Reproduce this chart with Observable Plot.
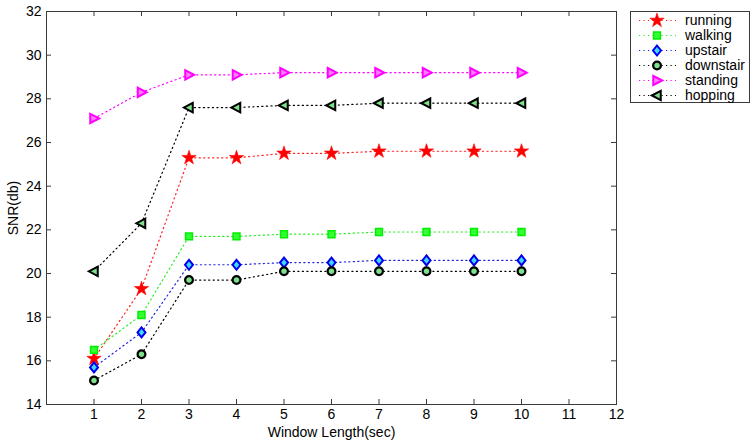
<!DOCTYPE html>
<html>
<head>
<meta charset="utf-8">
<script src="https://cdn.jsdelivr.net/npm/d3@7"></script>
<script src="https://cdn.jsdelivr.net/npm/@observablehq/plot@0.6"></script>
<style>
  body { margin: 0; background: #fff; }
  #wrap { position: relative; width: 756px; height: 444px; }
  #legend { position: absolute; left: 630px; top: 11px; }
</style>
</head>
<body>
<div id="wrap"></div>
<script>
// ---- data ----
const windowLengths = [1, 2, 3, 4, 5, 6, 7, 8, 9, 10];
const running   = [16.1, 19.3, 25.3, 25.3, 25.5, 25.5, 25.6, 25.6, 25.6, 25.6];
const walking   = [16.5, 18.1, 21.7, 21.7, 21.8, 21.8, 21.9, 21.9, 21.9, 21.9];
const upstair   = [15.7, 17.3, 20.4, 20.4, 20.5, 20.5, 20.6, 20.6, 20.6, 20.6];
const downstair = [15.1, 16.3, 19.7, 19.7, 20.1, 20.1, 20.1, 20.1, 20.1, 20.1];
const standing  = [27.1, 28.3, 29.1, 29.1, 29.2, 29.2, 29.2, 29.2, 29.2, 29.2];
const hopping   = [20.1, 22.3, 27.6, 27.6, 27.7, 27.7, 27.8, 27.8, 27.8, 27.8];
const seriesNames = ["running", "walking", "upstair", "downstair", "standing", "hopping"];
const xTicks = [1, 2, 3, 4, 5, 6, 7, 8, 9, 10, 11, 12];
const yTicks = [14, 16, 18, 20, 22, 24, 26, 28, 30, 32];

// ---- custom symbols ----
const triRight = { draw(ctx, size) { const r = Math.sqrt(size / Math.PI);
  ctx.moveTo(r * 1.1, 0); ctx.lineTo(-r * 0.8, -r); ctx.lineTo(-r * 0.8, r); ctx.closePath(); } };
const triLeft = { draw(ctx, size) { const r = Math.sqrt(size / Math.PI);
  ctx.moveTo(-r * 1.1, 0); ctx.lineTo(r * 0.8, -r); ctx.lineTo(r * 0.8, r); ctx.closePath(); } };
const diamond = { draw(ctx, size) { const r = Math.sqrt(size / Math.PI);
  ctx.moveTo(0, -r); ctx.lineTo(r * 0.8, 0); ctx.lineTo(0, r); ctx.lineTo(-r * 0.8, 0); ctx.closePath(); } };
const square = { draw(ctx, size) { const r = Math.sqrt(size / Math.PI) * 0.8;
  ctx.rect(-r, -r, 2 * r, 2 * r); } };

const values = [running, walking, upstair, downstair, standing, hopping];
const styles = [
  { line: "#ff2020", stroke: "#ff0000", fill: "#ff0000", symbol: d3.symbolStar, r: 4.5, sw: 0.6 },
  { line: "#22ee22", stroke: "#00ee00", fill: "#33ff33", symbol: square, r: 4.3, sw: 1.5 },
  { line: "#2222dd", stroke: "#0000ee", fill: "#40d8ff", symbol: diamond, r: 5, sw: 2 },
  { line: "#000000", stroke: "#000000", fill: "#7de08a", symbol: "circle", r: 3.9, sw: 2.2 },
  { line: "#ff00ff", stroke: "#ff00ff", fill: "#ff7cff", symbol: triRight, r: 4.7, sw: 2 },
  { line: "#000000", stroke: "#000000", fill: "#7de08a", symbol: triLeft, r: 4.7, sw: 2 }
];

const W = 756, H = 444, mL = 46, mR = 140, mT = 11, mB = 40;
const innerW = W - mL - mR, innerH = H - mT - mB;
const FONT = "'Liberation Sans', Arial, Helvetica, sans-serif";

const marks = [];
values.forEach((vals, k) => {
  const rows = windowLengths.map((x, i) => ({ x, y: vals[i], s: seriesNames[k] }));
  const st = styles[k];
  marks.push(Plot.line(rows, { x: "x", y: "y", stroke: st.line, strokeWidth: 1.2, strokeDasharray: "1.2,3.3" }));
});
values.forEach((vals, k) => {
  const rows = windowLengths.map((x, i) => ({ x, y: vals[i], s: seriesNames[k] }));
  const st = styles[k];
  marks.push(Plot.dot(rows, { x: "x", y: "y", symbol: () => st.symbol, r: st.r, fill: st.fill, stroke: st.stroke, strokeWidth: st.sw }));
});

const chart = Plot.plot({
  width: W, height: H,
  marginLeft: mL, marginRight: mR, marginTop: mT, marginBottom: mB,
  style: { fontFamily: FONT, fontSize: "14px", color: "#000", background: "#fff" },
  x: { domain: [0, 12] },
  y: { domain: [14, 32] },
  symbol: { type: "identity" },
  marks: [
    Plot.frame({ stroke: "#3a3a3a", strokeWidth: 1 }),
    Plot.tickX(xTicks, { x: d => d, insetTop: innerH - 5, stroke: "#3a3a3a" }),
    Plot.tickX(xTicks, { x: d => d, insetBottom: innerH - 5, stroke: "#3a3a3a" }),
    Plot.tickY(yTicks, { y: d => d, insetRight: innerW - 5, stroke: "#3a3a3a" }),
    Plot.tickY(yTicks, { y: d => d, insetLeft: innerW - 5, stroke: "#3a3a3a" }),
    Plot.axisX({ ticks: xTicks, tickSize: 0, tickPadding: 5, tickFormat: d => String(d),
      label: "Window Length(sec)", labelAnchor: "center", labelArrow: "none", labelOffset: 32 }),
    Plot.axisY({ ticks: yTicks, tickSize: 0, tickPadding: 5, tickFormat: d => String(d),
      label: "SNR(db)", labelAnchor: "center", labelArrow: "none", labelOffset: 38 }),
    ...marks
  ]
});
document.getElementById("wrap").appendChild(chart);

// ---- legend ----
const LW = 119, LH = 91, rowH = 15;
const lg = d3.select("#wrap").append("svg").attr("id", "legend").attr("width", LW + 1).attr("height", LH + 1)
  .style("font-family", FONT).style("font-size", "14px");
lg.append("rect").attr("x", 0.5).attr("y", 0.5).attr("width", LW).attr("height", LH)
  .attr("fill", "#fff").attr("stroke", "#3a3a3a");
seriesNames.forEach((name, k) => {
  const st = styles[k];
  const cy = 9.5 + k * rowH;
  const g = lg.append("g");
  g.append("line").attr("x1", 9).attr("x2", 46).attr("y1", cy).attr("y2", cy)
    .attr("stroke", st.line).attr("stroke-width", 1.2).attr("stroke-dasharray", "1.2,3.3");
  const sym = st.symbol === "circle" ? d3.symbolCircle : st.symbol;
  g.append("path").attr("d", d3.symbol(sym, Math.PI * st.r * st.r)())
    .attr("transform", `translate(27,${cy})`)
    .attr("fill", st.fill).attr("stroke", st.stroke).attr("stroke-width", st.sw);
  g.append("text").attr("x", 55).attr("y", cy).attr("dy", "0.35em").text(name);
});
</script>
</body>
</html>
